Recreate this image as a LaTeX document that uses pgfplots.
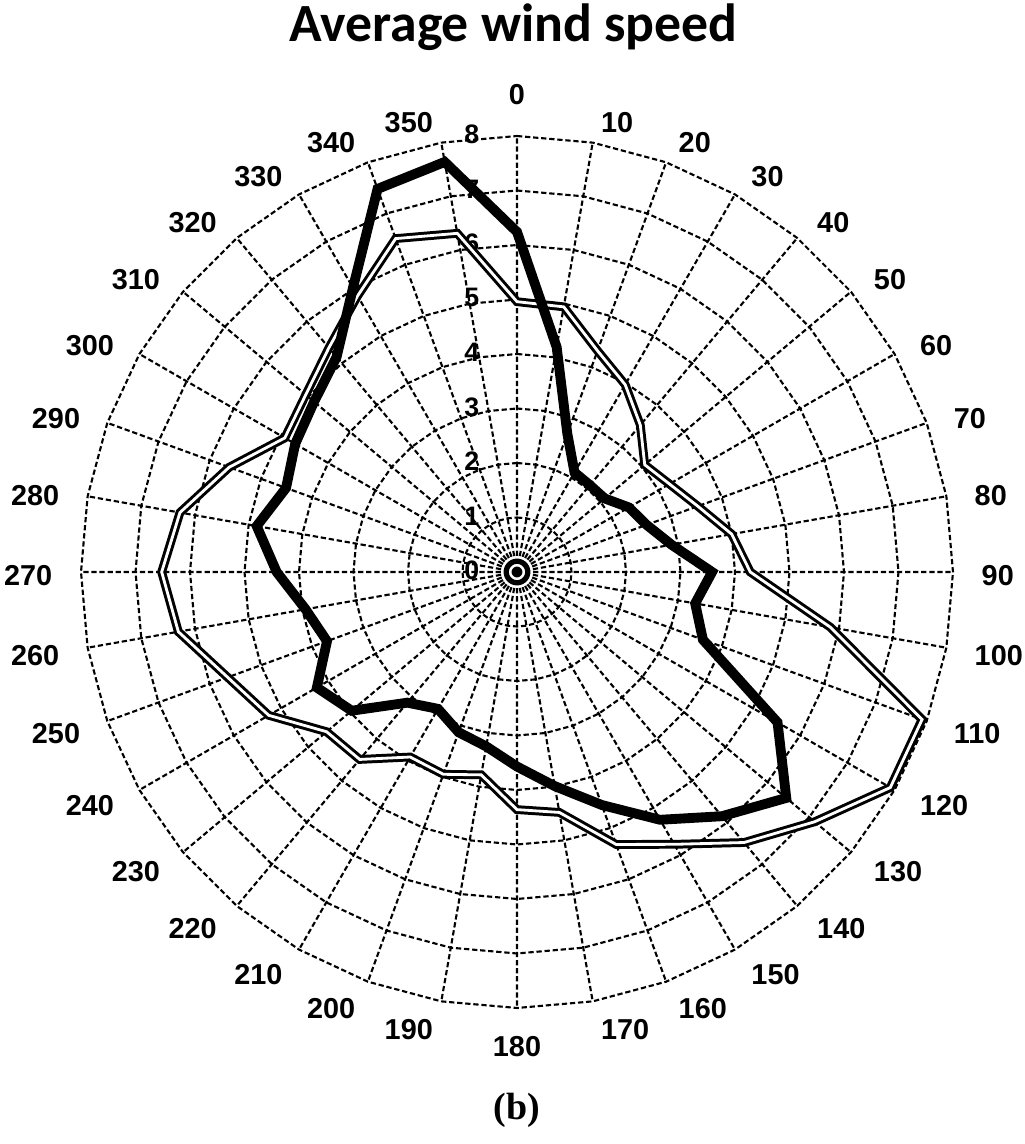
\documentclass[border=0pt]{standalone}
\usepackage{fontspec}
\setmainfont{Liberation Sans}
\newfontfamily\titlefont{Carlito}
\newfontfamily\capfont{Liberation Serif}
\usepackage{pgfplots}
\pgfplotsset{compat=1.18}
\usepgfplotslibrary{polar}

\tikzset{
  gridline/.style={black, line width=0.6pt, dash pattern=on 1.5pt off 0.8pt},
  lbl/.style={font=\bfseries\fontsize{8.2}{10}\selectfont, inner sep=1pt},
}

\begin{document}
\begin{tikzpicture}
\begin{axis}[
    anchor=origin, at={(0,0)},
    x=0.545cm, y=0.545cm,
    xmin=-8, xmax=8, ymin=-8, ymax=8,
    hide axis, clip=false,
]
  % polygon rings 1..8
  \pgfplotsinvokeforeach{1,...,8}{
    \draw[gridline] (0,#1) \foreach \a in {10,20,...,350}{ -- ({#1*sin(\a)},{#1*cos(\a)}) } -- cycle;
  }
  % spokes
  \draw[gridline] \foreach \a in {0,10,...,350}{ (0,0) -- ({8*sin(\a)},{8*cos(\a)}) };
  % direction labels
  \node[lbl, anchor=south] at (0,8.5) {0};
  \node[lbl, anchor=north] at (0,-8.45) {180};
  \path[lbl] \foreach \a in {10,20,...,170}{ ({8.45*sin(\a)},{8.45*cos(\a)-0.07}) node[anchor=west] {\a} };
  \path[lbl] \foreach \a in {190,200,...,350}{ ({8.45*sin(\a)},{8.45*cos(\a)-0.07}) node[anchor=east] {\a} };
  % radial labels
  \path[font=\bfseries\fontsize{7.6}{10}\selectfont]
    \foreach \r in {0,...,8}{ (-0.83,\r+0.03) node {\r} };

  % second series (double line); angle = 90 - direction
  \addplot[data cs=polar, black, double=white, line width=0.85pt, double distance=0.8pt, mark=none]
    coordinates {
      (90,4.96) (80,4.94) (70,4.32) (60,3.97) (50,3.52) (40,3.06)
      (30,3.23) (20,3.53) (10,4.00) (0,4.28) (-10,5.84) (-20,7.91)
      (-30,7.91) (-40,7.13) (-50,6.48) (-60,5.77) (-70,5.32) (-80,4.48)
      (-90,4.36) (-100,3.78) (-110,3.95) (-120,3.92) (-130,4.49) (-140,4.56)
      (-150,5.26) (-160,5.65) (-170,6.31) (-180,6.52) (-190,6.28) (-200,5.62)
      (-210,4.92) (-220,5.06) (-230,5.37) (-240,5.85) (-250,6.51) (-260,6.31)
    } -- cycle;

  % main series (thick line)
  \addplot[data cs=polar, black, line width=2.8pt, mark=none]
    coordinates {
      (90,6.24) (80,4.19) (70,2.70) (60,2.11) (50,2.08) (40,2.10)
      (30,2.37) (20,2.53) (10,2.88) (0,3.58) (-10,3.32) (-20,3.63)
      (-30,5.52) (-40,6.45) (-50,5.85) (-60,5.25) (-70,4.55) (-80,3.99)
      (-90,3.57) (-100,3.25) (-110,3.13) (-120,2.90) (-130,3.13) (-140,3.96)
      (-150,4.24) (-160,3.71) (-170,3.94) (-180,4.41) (-190,4.85) (-200,4.51)
      (-210,4.70) (-220,4.86) (-230,5.15) (-240,6.02) (-250,7.48) (-260,7.64)
    } -- cycle;
\end{axis}
\node[font=\titlefont\bfseries\fontsize{15.3}{18}\selectfont, anchor=base] at (-0.035,5.30) {Average wind speed};
\node[font=\capfont\bfseries\fontsize{10.8}{13}\selectfont] at (0,-5.38) {(b)};
\pgfresetboundingbox
\path[use as bounding box] (-5.17,-5.72) rectangle (5.07,5.72);
\end{tikzpicture}
\end{document}
